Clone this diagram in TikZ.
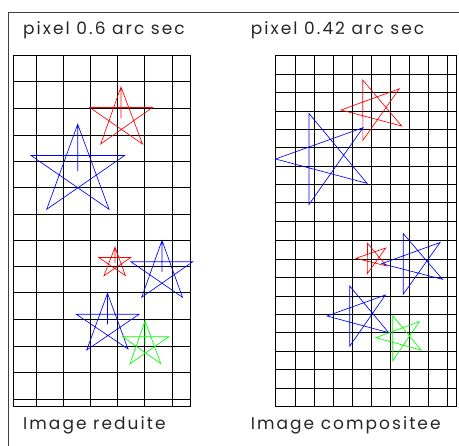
\documentclass[tikz,border=0pt]{standalone}
\usepackage{fontspec}
\setmainfont{Poppins}[LetterSpace=12]
\usetikzlibrary{positioning}

\begin{document}
\begin{tikzpicture}[
  x=1pt, y=-1pt,
  frame/.style={draw=black!75, line width=0.8pt},
  gridline/.style={draw=black, line width=0.8pt},
  starline/.style={line width=0.65pt, line join=miter},
  legend/.style={anchor=base west, inner sep=0pt, font=\fontsize{17}{20}\selectfont, text=black!85}
]
\useasboundingbox (0,0) rectangle (459,446);

\draw[frame] (459,12) -- (8,12) -- (8,446);

% reduced image, pixel 0.6
\draw[gridline] (13.3,55.3) rectangle (190,406.7);
\foreach \gx in {36,63.2,90.4,117.6,144.8,172}
  \draw[gridline] (\gx,55.3) -- (\gx,406.7);
\foreach \gy in {81.7,108.3,135,161.7,187.7,214.3,240.7,266.7,292.7,319.3,346,372.7,399}
  \draw[gridline] (13.3,\gy) -- (190,\gy);

% composite image, pixel 0.42
\draw[gridline] (275.7,55.3) rectangle (456,406);
\foreach \gx in {295,314.3,333.3,352.7,371.7,390.7,409.7,428.7,447.7}
  \draw[gridline] (\gx,55.3) -- (\gx,406);
\foreach \gy in {74.3,92.7,111,129.3,147.7,166,184.3,202.7,221.7,240.7,259,277.3,296,314.3,332.7,351,369.3,388.3}
  \draw[gridline] (275.7,\gy) -- (456,\gy);

\node[legend] (titleleft) at (23,34.5) {pixel 0.6 arc sec};
\node[legend] (titleright) at (250.7,34.5) {pixel 0.42 arc sec};
\node[legend] (capleft) at (23,429.3) {Image reduite};
\node[legend] (capright) at (250.7,429.3) {Image compositee};

% stars, reduced image
\draw[starline, red] (121,87) -- (100.7,144) -- (152.5,107.5) -- (89.7,107.5) -- (142.5,144) -- cycle
  (121,87) -- (121,118.5);
\draw[starline, blue] (77.7,124.3) -- (46.7,209.3) -- (124.7,155.5) -- (31,155.5) -- (109,209.3) -- cycle
  (77.7,124.3) -- (77.7,171.3);
\draw[starline, red] (115,247.3) -- (104,275.7) -- (130.8,257.5) -- (98.7,257.5) -- (125.5,275.7) -- cycle
  (115,247.3) -- (115,263);
\draw[starline, blue] (162,240.5) -- (141.7,297.3) -- (192.8,261.7) -- (130.8,261.7) -- (182.5,297.3) -- cycle
  (162,240.5) -- (162,271.9);
\draw[starline, blue] (107.5,293.3) -- (86.7,350) -- (139,314.3) -- (76.4,314.3) -- (128,349) -- cycle
  (107.5,293.3) -- (107.5,324.3);
\draw[starline, green] (145,321) -- (130,363.7) -- (169,336.7) -- (122.7,336.7) -- (160.8,363.7) -- cycle
  (145,321) -- (145,344.6);

% stars, composite image
\draw[starline, red] (362.7,80) -- (401.7,126) -- (341,110) -- (399.3,88.8) -- (362.9,140.3) -- cycle;
\draw[starline, blue] (309,113.5) -- (367,183.3) -- (275.5,159) -- (363,127.7) -- (309,204.5) -- cycle;
\draw[starline, red] (367.5,243.3) -- (386.6,266) -- (356,258.3) -- (385.7,248) -- (367.3,273.7) -- cycle;
\draw[starline, blue] (403.3,233.7) -- (442.5,279.3) -- (381.7,263.7) -- (440,242.5) -- (403.3,294.2) -- cycle;
\draw[starline, blue] (349.7,286) -- (388.7,332.7) -- (327,316) -- (385.4,295) -- (349.7,346.2) -- cycle;
\draw[starline, green] (392.7,315.7) -- (421,350) -- (375.7,337.7) -- (419.3,321.7) -- (392.7,360.7) -- cycle;

\end{tikzpicture}
\end{document}
